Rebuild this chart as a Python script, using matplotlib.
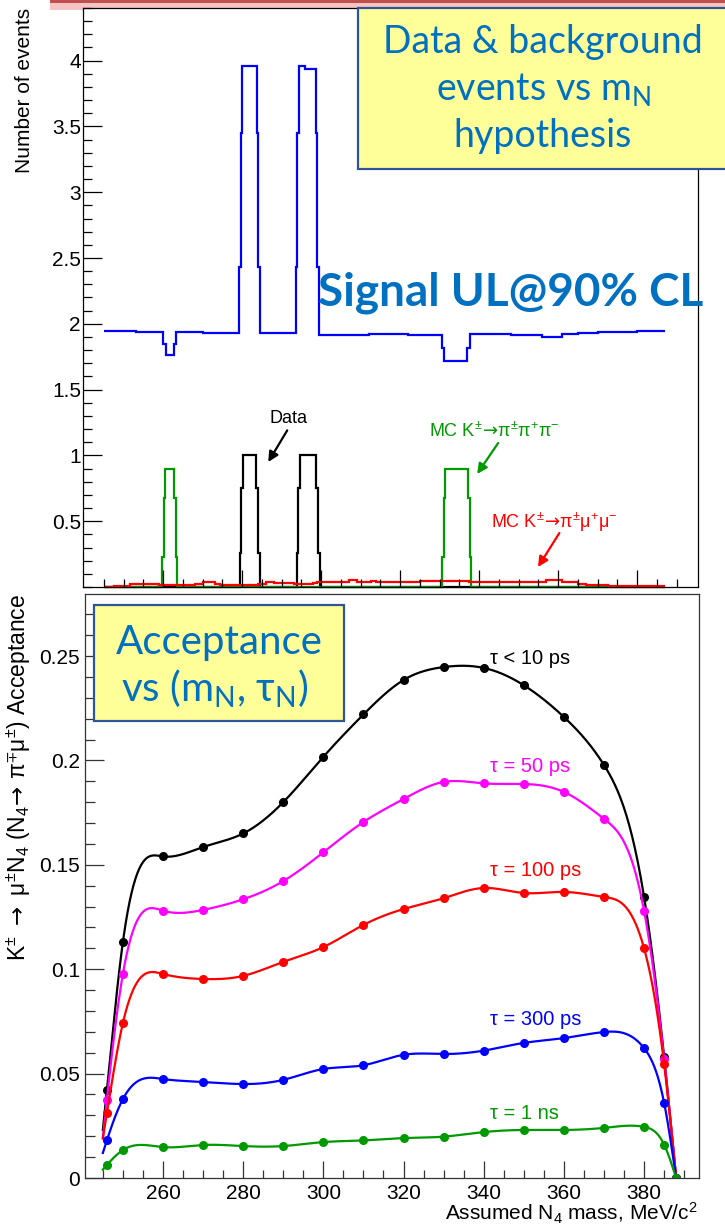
import numpy as np
import matplotlib
matplotlib.use("Agg")
import matplotlib.pyplot as plt
from matplotlib.patches import Rectangle
from matplotlib.ticker import MultipleLocator, FixedLocator, FormatStrFormatter, NullFormatter

plt.rcParams['font.family'] = ['Liberation Sans', 'DejaVu Sans']
plt.rcParams['mathtext.default'] = 'regular'
plt.rcParams['mathtext.fallback'] = 'stixsans'

# ---- top panel: histograms of events vs assumed mass (step edges in MeV) ----
bkg_edges = [245, 253, 260, 260.6, 262.7, 263.2, 270, 279.3, 279.7, 280, 283.7, 284.1, 284.5,
             293.7, 294, 294.3, 296, 298.6, 299, 299.4, 312, 322, 330.6, 331.2, 337, 337.7,
             348, 356, 361, 365, 370, 380, 387]
bkg_events = [1.945, 1.94, 1.85, 1.76, 1.85, 1.94, 1.93, 2.43, 3.45, 3.96, 3.45, 2.43, 1.93,
              2.43, 3.45, 3.96, 3.94, 3.45, 2.43, 1.915, 1.92, 1.915, 1.82, 1.72, 1.82, 1.92,
              1.915, 1.90, 1.92, 1.93, 1.94, 1.945]

data_edges = [245, 279.4, 279.8, 280.3, 283.6, 284.0, 284.5, 293.8, 294.2, 294.7, 298.8, 299.3, 299.8, 387]
data_events = [0, 0.26, 0.75, 1.0, 0.75, 0.26, 0, 0.26, 0.75, 1.0, 0.75, 0.26, 0]

k3pi_edges = [245, 259.7, 260.1, 260.5, 262.8, 263.2, 263.6, 330.6, 331.0, 331.4, 337.2, 337.6, 338.0, 387]
k3pi_events = [0, 0.23, 0.68, 0.9, 0.68, 0.23, 0, 0.23, 0.68, 0.9, 0.68, 0.23, 0]

kpimumu_edges = [245, 247.5, 251.5, 259, 268, 270, 273, 274.5, 284, 286, 288, 293, 298, 299, 307,
                 309, 312.5, 314, 317.5, 320, 325, 330, 337.5, 345, 350.5, 357, 361, 365, 367,
                 372.5, 384, 387]
kpimumu_events = [0.002, 0.01, 0.02, 0.015, 0.025, 0.036, 0.025, 0.015, 0.025, 0.035, 0.027, 0.02,
                  0.027, 0.04, 0.05, 0.04, 0.045, 0.035, 0.04, 0.04, 0.045, 0.047, 0.04, 0.035,
                  0.04, 0.055, 0.04, 0.02, 0.015, 0.01, 0.005]

# ---- bottom panel: acceptance vs mass for several lifetimes ----
mass = [245, 246, 250, 260, 270, 280, 290, 300, 310, 320, 330, 340, 350, 360, 370, 380, 385, 388]
acc_10ps = [0.023, 0.042, 0.113, 0.154, 0.1585, 0.165, 0.180, 0.2017, 0.222, 0.2385, 0.2447,
            0.2443, 0.236, 0.2208, 0.1978, 0.1346, 0.058, 0.0]
acc_50ps = [0.019, 0.0374, 0.0977, 0.128, 0.1284, 0.1335, 0.1422, 0.156, 0.1705, 0.1815, 0.1897,
            0.189, 0.1887, 0.1849, 0.172, 0.128, 0.057, 0.0]
acc_100ps = [0.019, 0.031, 0.0742, 0.0977, 0.0953, 0.0968, 0.1035, 0.1106, 0.1212, 0.1288, 0.134,
             0.1389, 0.1365, 0.137, 0.1346, 0.110, 0.0546, 0.0]
acc_300ps = [0.012, 0.018, 0.0378, 0.0474, 0.046, 0.045, 0.047, 0.0522, 0.054, 0.059, 0.0594,
             0.061, 0.0647, 0.067, 0.0699, 0.0622, 0.036, 0.0]
acc_1ns = [0.004, 0.0062, 0.0134, 0.0148, 0.0158, 0.0153, 0.0153, 0.0172, 0.018, 0.0191, 0.0198,
           0.022, 0.023, 0.023, 0.024, 0.0245, 0.016, 0.0]

curves = [
    (acc_10ps, 'black', 'τ < 10 ps', 0.249),
    (acc_50ps, '#ff00ff', 'τ = 50 ps', 0.197),
    (acc_100ps, '#ff0000', 'τ = 100 ps', 0.1475),
    (acc_300ps, '#0000ff', 'τ = 300 ps', 0.0757),
    (acc_1ns, '#009900', 'τ = 1 ns', 0.0311),
]

ARR = r'$\!\mathrm{\rightarrow}\!$'


def natural_spline(x, y, xs):
    x = np.asarray(x, float)
    y = np.asarray(y, float)
    n = len(x)
    h = np.diff(x)
    A = np.zeros((n, n))
    b = np.zeros(n)
    A[0, 0] = 1
    A[-1, -1] = 1
    for i in range(1, n - 1):
        A[i, i - 1] = h[i - 1]
        A[i, i] = 2 * (h[i - 1] + h[i])
        A[i, i + 1] = h[i]
        b[i] = 6 * ((y[i + 1] - y[i]) / h[i] - (y[i] - y[i - 1]) / h[i - 1])
    M = np.linalg.solve(A, b)
    idx = np.clip(np.searchsorted(x, xs) - 1, 0, n - 2)
    x0 = x[idx]
    x1 = x[idx + 1]
    hh = x1 - x0
    t0 = x1 - xs
    t1 = xs - x0
    return (M[idx] * t0 ** 3 / (6 * hh) + M[idx + 1] * t1 ** 3 / (6 * hh)
            + (y[idx] / hh - M[idx] * hh / 6) * t0 + (y[idx + 1] / hh - M[idx + 1] * hh / 6) * t1)


W, H = 725, 1225
fig = plt.figure(figsize=(W / 100, H / 100), dpi=100)


def fbox(x0, y0, x1, y1):
    return [x0 / W, 1 - y1 / H, (x1 - x0) / W, (y1 - y0) / H]


def arrow(ax, tail, head, col):
    ax.annotate('', xy=head, xytext=tail,
                arrowprops=dict(arrowstyle='-|>', color=col, lw=1.6, mutation_scale=15,
                                shrinkA=0, shrinkB=0))


# slide decoration at the very top
fig.add_artist(Rectangle((50 / W, 1 - 10 / H), 675 / W, 7 / H, transform=fig.transFigure,
                         color='#f6c4c4', lw=0, zorder=0))
fig.add_artist(Rectangle((50 / W, 1 - 3 / H), 675 / W, 3 / H, transform=fig.transFigure,
                         color='#c0504d', lw=0, zorder=0))

ax1 = fig.add_axes(fbox(83, 8, 698, 587))
ax1.stairs(data_events, data_edges, color='black', lw=1.6, baseline=None, clip_on=False)
ax1.stairs(k3pi_events, k3pi_edges, color='#009900', lw=1.6, baseline=None, clip_on=False)
ax1.stairs(kpimumu_events, kpimumu_edges, color='#ff0000', lw=1.6, baseline=None)
ax1.stairs(bkg_events, bkg_edges, color='#0000ff', lw=1.6, baseline=None)
ax1.set_xlim(239.7, 395.4)
ax1.set_ylim(0, 4.4)
ax1.yaxis.set_major_locator(FixedLocator([0.5, 1, 1.5, 2, 2.5, 3, 3.5, 4]))
ax1.yaxis.set_minor_locator(MultipleLocator(0.1))
ax1.yaxis.set_major_formatter(FormatStrFormatter('%g'))
ax1.xaxis.set_major_locator(FixedLocator([260, 280, 300, 320, 340, 360, 380]))
ax1.xaxis.set_minor_locator(FixedLocator(np.arange(245, 395, 5)))
ax1.xaxis.set_major_formatter(NullFormatter())
ax1.tick_params(which='both', direction='in', top=False, right=False, labelsize=15, width=0.9)
ax1.tick_params(axis='y', which='major', length=13.5, pad=1.5)
ax1.tick_params(axis='y', which='minor', length=6.5)
ax1.tick_params(axis='x', which='major', length=12)
ax1.tick_params(axis='x', which='minor', length=5.8)
for s in ax1.spines.values():
    s.set_linewidth(0.9)

ax1.text(291.6, 1.28, 'Data', ha='center', va='center', fontsize=13)
arrow(ax1, (291.4, 1.19), (286.6, 0.95), 'black')
ax1.text(343.8, 1.185, 'MC K$^{\\pm}$' + ARR + 'π$^{\\pm}$π$^{+}$π$^{-}$', ha='center',
         va='center', fontsize=13, color='#009900')
arrow(ax1, (344.8, 1.094), (339.5, 0.859), '#009900')
ax1.text(359.0, 0.494, 'MC K$^{\\pm}$' + ARR + 'π$^{\\pm}$μ$^{+}$μ$^{-}$', ha='center',
         va='center', fontsize=13, color='#ff0000')
arrow(ax1, (360.3, 0.41), (354.9, 0.152), '#ff0000')

fig.text(25 / W, 1 - 8 / H, 'Number of events', rotation=90, ha='center', va='top', fontsize=15)

ax2 = fig.add_axes(fbox(85, 594, 699, 1178))
xs = np.linspace(mass[0], mass[-1], 600)
for vals, col, lab, ylab in curves:
    ax2.plot(xs, natural_spline(mass, vals, xs), color=col, lw=1.6)
    ax2.plot(mass[1:], vals[1:], 'o', color=col, ms=5.5)
    ax2.text(341.5, ylab, lab, color=col, fontsize=14.5, ha='left', va='center')
ax2.set_xlim(240.55, 393.7)
ax2.set_ylim(0, 0.2797)
ax2.xaxis.set_major_locator(FixedLocator([260, 280, 300, 320, 340, 360, 380]))
ax2.xaxis.set_minor_locator(FixedLocator(np.arange(245, 395, 5)))
ax2.yaxis.set_major_locator(MultipleLocator(0.05))
ax2.yaxis.set_minor_locator(MultipleLocator(0.01))
ax2.yaxis.set_major_formatter(FormatStrFormatter('%g'))
ax2.tick_params(which='both', direction='in', top=False, right=False, labelsize=15,
                width=0.9, color='#333333')
ax2.tick_params(axis='y', which='major', length=13.7, pad=3.5)
ax2.tick_params(axis='y', which='minor', length=7)
ax2.tick_params(axis='x', which='major', length=12.2, pad=4)
ax2.tick_params(axis='x', which='minor', length=5.8)
for s in ax2.spines.values():
    s.set_linewidth(0.9)
    s.set_color('#333333')

fig.text(19 / W, 1 - 594 / H,
         'K$^{\\pm}$ $\\mathrm{\\rightarrow}$ μ$^{\\pm}$N$_{4}$ (N$_{4}$' + ARR
         + ' π$^{\\mp}$μ$^{\\pm}$) Acceptance',
         rotation=90, ha='center', va='top', fontsize=16.5)
fig.text(698 / W, 1 - 1221 / H, 'Assumed N$_{4}$ mass, MeV/c$^{2}$', ha='right',
         va='baseline', fontsize=15)

# text boxes
blue_txt = '#0070c0'
fig.add_artist(Rectangle((358 / W, 1 - 169 / H), 382 / W, 161 / H, transform=fig.transFigure,
                         fc='#ffff99', ec='#2f5597', lw=1.6, zorder=2))
fig.text(543 / W, 1 - 53 / H, 'Data & background', ha='center', va='baseline',
         fontsize=27, color=blue_txt, family='Lato', zorder=3)
fig.text(544 / W, 1 - 100 / H, 'events vs m$_{N}$', ha='center', va='baseline',
         fontsize=27, color=blue_txt, family='Lato', zorder=3)
fig.text(543 / W, 1 - 147 / H, 'hypothesis', ha='center', va='baseline',
         fontsize=27, color=blue_txt, family='Lato', zorder=3)
fig.text(511 / W, 1 - 305 / H, 'Signal UL@90% CL', ha='center', va='baseline',
         fontsize=33, color=blue_txt, family='Lato', weight='bold', zorder=3)

fig.add_artist(Rectangle((94 / W, 1 - 721 / H), 250 / W, 116 / H, transform=fig.transFigure,
                         fc='#ffff99', ec='#2f5597', lw=1.6, zorder=2))
fig.text(219 / W, 1 - 654 / H, 'Acceptance', ha='center', va='baseline',
         fontsize=29, color=blue_txt, family='Lato', zorder=3)
fig.text(215 / W, 1 - 702 / H, 'vs (m$_{N}$, τ$_{N}$)', ha='center', va='baseline',
         fontsize=29, color=blue_txt, family='Lato', zorder=3)

fig.savefig('out.png', dpi=100)
